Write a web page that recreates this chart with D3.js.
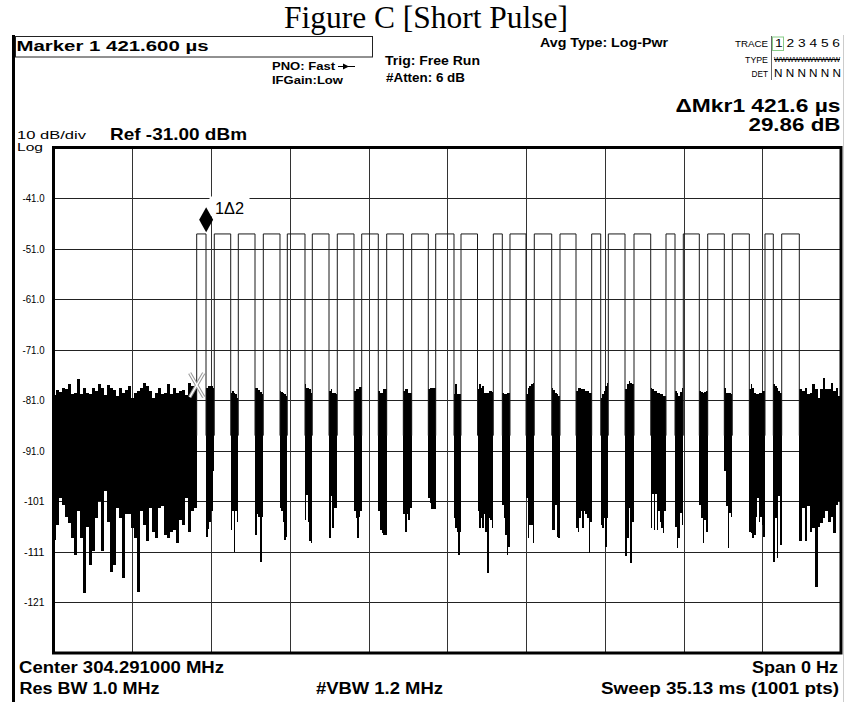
<!DOCTYPE html>
<html lang="en">
<head>
<meta charset="UTF-8">
<title>Figure C [Short Pulse]</title>
<script src="https://d3js.org/d3.v7.min.js"></script>
<style>
  body { margin: 0; background: #fff; }
  svg { display: block; }
  text { font-family: "Liberation Sans", Arial, sans-serif; fill: #000; }
</style>
</head>
<body>
<svg id="chart" width="846" height="702"></svg>
<script>
// analyzer settings (zero span, time domain)
const refLevel = -31;
const dbPerDiv = 10;
const sweepMs = 35.13;

const yTicks = [-41, -51, -61, -71, -81, -91, -101, -111, -121];
const yTickLabels = ["-41.0", "-51.0", "-61.0", "-71.0", "-81.0", "-91.0", "-101", "-111", "-121"];

// pulse edges in ms
const pulseRise = [6.388, 7.173, 8.244, 9.359, 10.430, 11.545, 12.660, 13.749, 14.864, 15.979,
  17.050, 18.179, 19.620, 20.364, 21.448, 22.595, 24.009, 24.750, 25.896, 27.324,
  28.095, 29.184, 30.281, 31.740, 32.485];
const pulseFall = [6.803, 7.905, 8.989, 10.104, 11.219, 12.290, 13.405, 14.489, 15.605, 16.720,
  17.866, 18.915, 20.021, 21.078, 22.225, 23.309, 24.411, 25.495, 26.641, 27.725,
  28.809, 29.924, 31.040, 32.110, 33.270];
const pulseLevel = -48.1;

// noise floor before the burst (upper / lower envelope, dBm)
const leftNoiseTop = [-80, -79, -79.3, -78.5, -78.8, -77.8, -79.8, -79.5, -76.8, -79.8, -78.5, -79.5,
  -79.8, -78.5, -79.1, -77.8, -78.5, -80, -78, -78.5, -79, -80.1, -78.5, -79.5,
  -79, -78.2, -80.5, -79.5, -79.1, -78.5, -77.5, -78.2, -79.1, -80.5, -79.5, -78.5,
  -79.8, -79.5, -77.8, -79.8, -78.5, -79.5, -79.1, -79, -80, -77.5, -78.2, -78.5];
const leftNoiseBottom = [-108.6, -105.6, -100.3, -101.7, -104, -105.3, -108.3, -111.6, -103, -108.3, -119.2, -106,
  -113.6, -110.9, -104.3, -101, -110.9, -99, -105, -115, -113.6, -102.3, -104.3, -116.2,
  -103.6, -103.6, -106.3, -108.3, -118.9, -103, -105.6, -108.9, -102.3, -107, -108.3, -102.3,
  -102, -107.6, -108.3, -107, -106.7, -109.3, -104.6, -105.6, -100.3, -107, -103, -102.3];

// noise between consecutive pulses
const gapNoiseTop = [
  [-78.5, -78.2, -78.2, -78.2, -78.5],
  [-79.5, -79.1, -79.5, -79.8, -80.5],
  [-78.6, -78.6, -79, -79.3, -79.7],
  [-79.1, -79.3, -79.5, -79.8, -80.1],
  [-77.8, -78.5, -78.5, -78.8, -79.5],
  [-79.1, -78.8, -79.5, -79.5, -79.8],
  [-79.1, -78.8, -78.8, -78.4, -78.4],
  [-79.1, -79.5, -79.5, -78.8, -78.8],
  [-79.1, -78.8, -78.8, -79.5, -79.5],
  [-78.8, -78.5, -78.5, -78.6, -78.6],
  [-79.8, -77.8, -79.8, -79.8, -79.8],
  [-78.8, -77.8, -78.5, -78.2, -79.5, -79.5, -79.5, -79.1, -79.1, -79.3],
  [-79.5, -79.8, -79.8, -79.5, -79.5],
  [-79.8, -78.5, -78.2, -77.8, -77.5],
  [-78.5, -79, -79.5, -79.8, -80.1],
  [-79.1, -78.5, -78.5, -78.8, -78.8, -78.8, -79.1, -79.1, -79.5, -79.5],
  [-80.5, -79.8, -79.1, -78.2, -77.5],
  [-78.8, -77.8, -77.2, -77.5, -77.8],
  [-78.5, -78.8, -79.1, -79.1, -79.5, -79.5, -79.8, -79.8, -80.1, -80.1],
  [-79.1, -79.5, -80.1, -79.3, -78.5],
  [-79.1, -79.3, -79.5, -79.3, -79.1],
  [-78.5, -79.5, -79.5, -79.5, -79.8],
  [-78.8, -77.8, -78.5, -79.5, -79.8, -79.8, -79.5, -79.5, -79.1, -79.1],
  [-77.8, -78.2, -78.5, -79.1, -79.5]
];
const gapNoiseBottom = [
  [-108, -106.5, -105, -103, -95],
  [-106.6, -103, -111, -103, -105],
  [-107.6, -103.6, -104, -112.9, -104],
  [-102.3, -103, -105, -108.6, -108],
  [-104.6, -99.7, -105, -108.9, -109.3],
  [-108.3, -100, -106.3, -102.3, -102.3],
  [-103, -104.3, -108.3, -104, -103],
  [-103, -106.6, -107.3, -107.6, -107.6],
  [-103.6, -107, -103.6, -104.6, -102.3],
  [-100.3, -101.3, -102.6, -102.6, -102.6],
  [-104.3, -106.3, -107, -111.6, -107],
  [-103, -106.3, -104.3, -106.3, -103.6, -107, -115.2, -104.3, -104.6, -106.3],
  [-101.7, -104.3, -107.6, -111.6, -110],
  [-100.3, -108.3, -105.6, -105.6, -109.3],
  [-106.6, -106.6, -101.7, -108, -108.3],
  [-106.3, -107, -104.3, -103, -106.3, -103, -103.6, -104.3, -111.3, -105],
  [-105.6, -106.3, -104.3, -110, -104.3],
  [-111.9, -108.3, -102.3, -113.2, -105],
  [-106.3, -99.5, -106.6, -99.5, -106.6, -103, -105, -106.3, -107.3, -103],
  [-106, -110.3, -108.3, -103.3, -105.6],
  [-101.7, -104.3, -109.3, -104.6, -107],
  [-95, -102, -110.3, -103.3, -104],
  [-107, -107.3, -108.3, -107.6, -104, -100.3, -105, -104, -105.6, -108],
  [-112.9, -104.3, -112.3, -100, -109.6]
];

// noise floor after the burst
const rightNoiseTop = [-78.8, -79.1, -78.5, -79.8, -79.5, -77.8, -78.8, -80.5,
  -78.8, -76.5, -78.8, -78.8, -77.5, -79.1, -78.5, -80.1];
const rightNoiseBottom = [-108.9, -102.3, -108.9, -102, -107, -106.3, -117.9, -106,
  -105.3, -104.3, -103, -105, -104, -107.3, -101.7, -101];

// markers: 2 is the reference (X), 1 is the delta marker
const marker2 = { t: 6.388, level: -78.0 };
const deltaTime = 0.4216;   // ms
const deltaLevel = 29.86;   // dB

const svg = d3.select("#chart");

const x = d3.scaleLinear().domain([0, sweepMs]).range([53.5, 841]);
const y = d3.scaleLinear().domain([refLevel - 10 * dbPerDiv, refLevel]).range([653, 147.5]);

function txt(s, px, py, size, opts = {}) {
  const t = svg.append("text")
    .attr("x", px).attr("y", py)
    .attr("font-size", size)
    .attr("font-weight", opts.bold ? "bold" : "normal")
    .attr("text-anchor", opts.anchor || "start")
    .text(s);
  if (opts.len) t.attr("textLength", opts.len).attr("lengthAdjust", "spacingAndGlyphs");
  if (opts.family) t.style("font-family", opts.family);
  return t;
}

// title above the screen capture
txt("Figure C [Short Pulse]", 284, 28, 31.5, { family: "'Liberation Serif', 'Times New Roman', serif", len: 284 });

// screen frame
svg.append("rect").attr("x", 12).attr("y", 35).attr("width", 3).attr("height", 667).attr("fill", "#000");
svg.append("line").attr("x1", 843.5).attr("x2", 843.5).attr("y1", 35).attr("y2", 702)
  .attr("stroke", "#ccc").attr("stroke-width", 1);

// header annotations
svg.append("rect").attr("x", 15.5).attr("y", 36.5).attr("width", 357).attr("height", 20.5)
  .attr("fill", "none").attr("stroke", "#222").attr("stroke-width", 1);
txt("Marker 1 421.600 µs", 16.5, 51, 15, { bold: true, len: 192 });
txt("PNO: Fast", 272, 70, 10, { bold: true, len: 63 });
txt("IFGain:Low", 272, 83.5, 10, { bold: true, len: 71 });
svg.append("line").attr("x1", 338).attr("x2", 355).attr("y1", 66.5).attr("y2", 66.5)
  .attr("stroke", "#000").attr("stroke-width", 1);
svg.append("path").attr("d", "M343,63.5L349,66.5L343,69.5Z").attr("fill", "#000");
txt("Trig: Free Run", 385, 65, 12.5, { bold: true, len: 95 });
txt("#Atten: 6 dB", 386, 81.5, 12.5, { bold: true, len: 79 });
txt("Avg Type: Log-Pwr", 540, 46.5, 12, { bold: true, len: 128 });

// trace status box
svg.append("line").attr("x1", 771.5).attr("x2", 771.5).attr("y1", 36).attr("y2", 80)
  .attr("stroke", "#666").attr("stroke-width", 1);
svg.append("rect").attr("x", 772.5).attr("y", 37).attr("width", 11).attr("height", 13.5)
  .attr("fill", "none").attr("stroke", "#8c8").attr("stroke-width", 1);
txt("TRACE", 768, 46.5, 8.5, { anchor: "end", len: 33 });
txt("1 2 3 4 5 6", 775, 47, 10.5, { len: 65 });
txt("TYPE", 768, 63, 8.5, { anchor: "end", len: 23 });
txt("WWWWWWWWWW", 774, 62, 7.5, { len: 66 });
svg.append("line").attr("x1", 774).attr("x2", 840).attr("y1", 59.5).attr("y2", 59.5)
  .attr("stroke", "#000").attr("stroke-width", 1);
txt("DET", 768, 76.5, 8.5, { anchor: "end", len: 16.5 });
txt("N N N N N N", 774, 76.5, 10.5, { len: 67 });

txt("\u0394Mkr1 421.6 µs", 840.5, 111.5, 19, { bold: true, anchor: "end", len: 165 });
txt("29.86 dB", 840.5, 131, 18.5, { bold: true, anchor: "end", len: 92 });
txt("10 dB/div", 17, 139, 11, { len: 69 });
txt("Log", 17, 150.5, 10, { len: 26 });
txt("Ref -31.00 dBm", 110, 140, 17, { bold: true, len: 137 });

// graticule
const yAxis = d3.axisLeft(y)
  .tickValues(yTicks)
  .tickFormat((d, i) => yTickLabels[i])
  .tickSize(-(x.range()[1] - x.range()[0]))
  .tickPadding(9);
const gy = svg.append("g").attr("transform", `translate(${x.range()[0]},0)`).call(yAxis);
gy.select(".domain").remove();
gy.selectAll(".tick line").attr("stroke", "#222").attr("shape-rendering", "crispEdges");
gy.selectAll(".tick text")
  .attr("font-size", 11)
  .attr("font-family", "'Liberation Sans', Arial, sans-serif")
  .attr("fill", "#000")
  .attr("textLength", (d, i) => yTickLabels[i].length === 5 ? 22 : 20.5)
  .attr("lengthAdjust", "spacingAndGlyphs");

const xGrid = d3.range(1, 10).map(i => i * sweepMs / 10);
const xAxis = d3.axisBottom(x)
  .tickValues(xGrid)
  .tickFormat("")
  .tickSize(-(y.range()[0] - y.range()[1]));
const gx = svg.append("g").attr("transform", `translate(0,${y.range()[0]})`).call(xAxis);
gx.select(".domain").remove();
gx.selectAll(".tick line").attr("stroke", "#333").attr("shape-rendering", "crispEdges");

// noise segments as filled envelopes
function noiseSeg(t0, t1, top, bottom) {
  const w = (t1 - t0) / top.length;
  const pts = top.map((v, i) => ({ t: t0 + i * w, hi: v, lo: bottom[i] }));
  pts.push({ t: t1, hi: top[top.length - 1], lo: bottom[bottom.length - 1] });
  return pts;
}
const segs = [noiseSeg(0, pulseRise[0], leftNoiseTop, leftNoiseBottom)];
gapNoiseTop.forEach((top, i) => segs.push(noiseSeg(pulseFall[i], pulseRise[i + 1], top, gapNoiseBottom[i])));
segs.push(noiseSeg(pulseFall[pulseFall.length - 1], sweepMs, rightNoiseTop, rightNoiseBottom));

const noiseArea = d3.area()
  .x(d => x(d.t))
  .y0(d => y(d.lo))
  .y1(d => y(d.hi))
  .curve(d3.curveStepAfter);

svg.append("g").selectAll("path").data(segs).join("path")
  .attr("d", noiseArea)
  .attr("fill", "#000")
  .attr("shape-rendering", "crispEdges");

// pulse outlines
const noiseBase = -88;
const edgeLine = d3.line().x(d => x(d[0])).y(d => y(d[1]));
const pulses = pulseRise.map((r, i) => ({ rise: r, fall: pulseFall[i] }));
svg.append("g").selectAll("path").data(pulses).join("path")
  .attr("d", p => edgeLine([[p.rise, noiseBase], [p.rise, pulseLevel], [p.fall, pulseLevel], [p.fall, noiseBase]]))
  .attr("fill", "none")
  .attr("stroke", "#1a1a1a")
  .attr("stroke-width", 1);

// plot frame
svg.append("rect")
  .attr("x", x.range()[0]).attr("y", y.range()[1])
  .attr("width", x.range()[1] - x.range()[0])
  .attr("height", y.range()[0] - y.range()[1])
  .attr("fill", "none").attr("stroke", "#000").attr("stroke-width", 3);

// reference marker (X)
const mx2 = x(marker2.t), my2 = y(marker2.level);
const xPath = `M${mx2 - 7},${my2 - 12}L${mx2 + 7},${my2 + 12}M${mx2 + 7},${my2 - 12}L${mx2 - 7},${my2 + 12}`;
svg.append("path").attr("d", xPath).attr("stroke", "#999").attr("stroke-width", 3.5).attr("fill", "none");
svg.append("path").attr("d", xPath).attr("stroke", "#fff").attr("stroke-width", 1.4).attr("fill", "none");

// delta marker (diamond) with label
const mx1 = x(marker2.t + deltaTime), my1 = y(marker2.level + deltaLevel);
svg.append("rect").attr("x", 209.5).attr("y", 196.5).attr("width", 40).attr("height", 20).attr("fill", "#fff");
svg.append("path")
  .attr("d", `M${mx1},${my1 - 2}L${mx1 + 7},${my1 - 14.5}L${mx1},${my1 - 27}L${mx1 - 7},${my1 - 14.5}Z`)
  .attr("fill", "#000");
txt("1\u03942", 215, 213.5, 16, { len: 29 });

// footer
txt("Center 304.291000 MHz", 19, 673, 16, { bold: true, len: 205 });
txt("Span 0 Hz", 838, 673, 16, { bold: true, anchor: "end", len: 86 });
txt("Res BW 1.0 MHz", 19.5, 694, 16, { bold: true, len: 140 });
txt("#VBW 1.2 MHz", 316, 694, 16, { bold: true, len: 127 });
txt("Sweep  35.13 ms (1001 pts)", 839, 694, 16, { bold: true, anchor: "end", len: 238 });
</script>
</body>
</html>
